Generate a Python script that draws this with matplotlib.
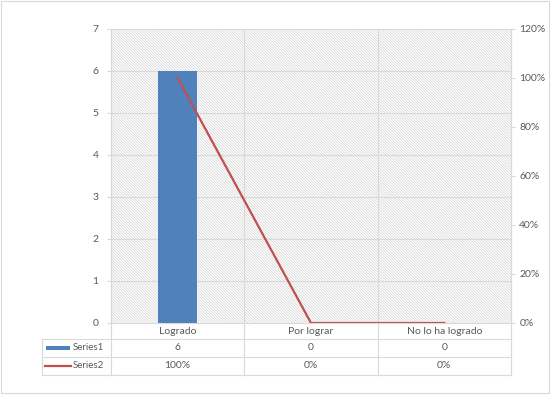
import matplotlib.pyplot as plt
from matplotlib.lines import Line2D
from matplotlib.patches import Rectangle

plt.rcParams['font.family'] = ['Lato', 'DejaVu Sans']
plt.rcParams['hatch.linewidth'] = 0.5

categories = ["Logrado", "Por lograr", "No lo ha logrado"]
series1 = [6, 0, 0]
series2 = [1.0, 0.0, 0.0]
series1_labels = ["6", "0", "0"]
series2_labels = ["100%", "0%", "0%"]

W, H = 552, 396
BLUE = "#4F81BD"
RED = "#C0504D"
GRID = "#D9D9D9"
TXT = "#595959"

fig = plt.figure(figsize=(W / 100, H / 100), dpi=100)

# plot area in pixels
x0, x1, y0, y1 = 111, 511, 29, 323
ax = fig.add_axes([x0 / W, 1 - y1 / H, (x1 - x0) / W, (y1 - y0) / H])
ax.set_xlim(-0.5, 2.5)
ax.set_ylim(0, 7)
ax.set_yticks(range(8))
ax.set_xticks([])

# hatched background
ax.add_patch(Rectangle((0, 0), 1, 1, transform=ax.transAxes, facecolor="white",
                       edgecolor="#D2D2D2", hatch="\\" * 12, linewidth=0, zorder=0))
for v in range(1, 8):
    ax.axhline(v, color=GRID, linewidth=0.8, zorder=1)
for xb in [0.5, 1.5]:
    ax.axvline(xb, color=GRID, linewidth=0.8, zorder=1)

ax.bar(range(3), series1, width=0.29, color=BLUE, zorder=2)

ax2 = ax.twinx()
ax2.set_ylim(0, 1.2)
ax2.set_yticks([0, 0.2, 0.4, 0.6, 0.8, 1.0, 1.2])
ax2.set_yticklabels(["0%", "20%", "40%", "60%", "80%", "100%", "120%"])
ax2.plot(range(3), series2, color=RED, linewidth=1.6, zorder=3)

for a in (ax, ax2):
    for s in a.spines.values():
        s.set_color(GRID)
        s.set_linewidth(0.8)
    a.spines["top"].set_visible(False)
    a.spines["bottom"].set_visible(False)
ax.tick_params(axis="y", colors=GRID, labelcolor=TXT, labelsize=7.5,
               length=3, width=0.8, pad=6)
ax2.tick_params(axis="y", colors=GRID, labelcolor=TXT, labelsize=7.5,
                length=3, width=0.8, pad=3)

# data table
def px(x, y):
    return x / W, 1 - y / H

col_x = [x0 + (x1 - x0) * i / 3 for i in range(4)]
rows = [323, 339, 357, 375]
tab_left = 42

def hline(y, xa, xb):
    fig.add_artist(Line2D([xa / W, xb / W], [1 - y / H, 1 - y / H], color=GRID, linewidth=0.8))

def vline(x, ya, yb):
    fig.add_artist(Line2D([x / W, x / W], [1 - ya / H, 1 - yb / H], color=GRID, linewidth=0.8))

hline(323, x0, x1)
for y in rows[1:]:
    hline(y, tab_left, x1)
for x in col_x:
    vline(x, 323, 375)
vline(tab_left, 339, 375)

for i, cat in enumerate(categories):
    cx = (col_x[i] + col_x[i + 1]) / 2
    fig.text(*px(cx, 331), cat, ha="center", va="center", fontsize=7.5, color=TXT)
    fig.text(*px(cx, 348), series1_labels[i], ha="center", va="center", fontsize=7.5, color=TXT)
    fig.text(*px(cx, 366), series2_labels[i], ha="center", va="center", fontsize=7.5, color=TXT)

fig.add_artist(Rectangle(px(46, 350), 24 / W, 4 / H, facecolor=BLUE, edgecolor="none"))
fig.add_artist(Line2D([45 / W, 71 / W], [1 - 366 / H, 1 - 366 / H], color=RED, linewidth=1.6))
fig.text(*px(104, 348), "Series1", ha="right", va="center", fontsize=7, color=TXT)
fig.text(*px(104, 366), "Series2", ha="right", va="center", fontsize=7, color=TXT)

# chart border
fig.add_artist(Rectangle((0.5 / W, 1 - 393 / H), 548.5 / W, 392.5 / H,
                         facecolor="none", edgecolor=GRID, linewidth=0.8))

fig.savefig("out.png", dpi=100)
